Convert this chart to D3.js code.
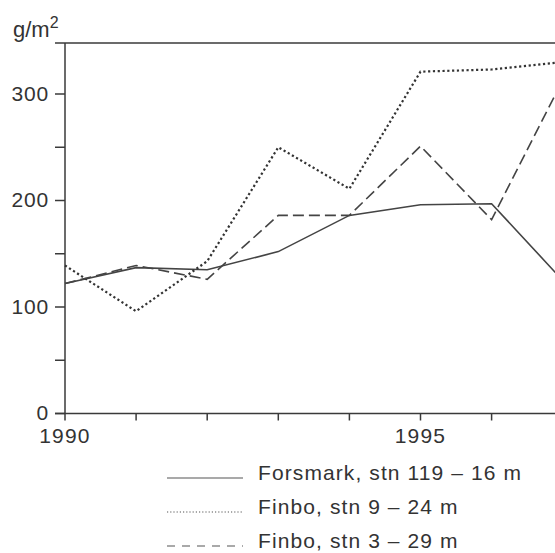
<!DOCTYPE html>
<html><head><meta charset="utf-8">
<script src="https://cdn.jsdelivr.net/npm/d3@7"></script>
<style>
html,body{margin:0;padding:0;background:#fff;}
svg{display:block;}
text{font-family:"Liberation Sans",Arial,Helvetica,sans-serif;fill:#333;}
</style></head>
<body>
<script>
const years = [1990, 1991, 1992, 1993, 1994, 1995, 1996, 1997];
const forsmark119 = [122, 137, 135, 152, 186, 196, 197, 125];
const finbo9 = [139, 96, 143, 250, 211, 321, 323, 330];
const finbo3 = [122, 139, 126, 186, 186, 251, 182, 313];
const seriesNames = ["Forsmark, stn 119 – 16 m", "Finbo, stn 9 – 24 m", "Finbo, stn 3 – 29 m"];
const yMajorTicks = [0, 100, 200, 300];
const yMinorTicks = [50, 150, 250];
const xLabelTicks = [1990, 1995];
const yUnit = "g/m";

const W = 555, H = 553;
const svg = d3.select("body").append("svg").attr("width", W).attr("height", H);

const x = d3.scaleLinear().domain([1990, 1995]).range([65, 420.5]);
const y = d3.scaleLinear().domain([0, 300]).range([413.5, 94]);
const yTop = 348;
const ink = "#3a3a3a";

// y axis line
svg.append("line").attr("x1", x(1990)).attr("x2", x(1990))
  .attr("y1", y(yTop)).attr("y2", y(0) + 7)
  .attr("stroke", ink).attr("stroke-width", 1.5);
// top line
svg.append("line").attr("x1", x(1990) - 10).attr("x2", W)
  .attr("y1", y(yTop)).attr("y2", y(yTop))
  .attr("stroke", ink).attr("stroke-width", 1.5);
// x axis line
svg.append("line").attr("x1", x(1990) - 10).attr("x2", W)
  .attr("y1", y(0)).attr("y2", y(0))
  .attr("stroke", ink).attr("stroke-width", 1.5);

// y ticks
const yAll = yMajorTicks.concat(yMinorTicks);
svg.selectAll(".ytick").data(yAll).enter().append("line")
  .attr("x1", x(1990) - 10).attr("x2", x(1990))
  .attr("y1", d => y(d)).attr("y2", d => y(d))
  .attr("stroke", ink).attr("stroke-width", 1.5);
svg.selectAll(".ylab").data(yMajorTicks).enter().append("text")
  .attr("x", x(1990) - 16).attr("y", d => y(d) + 6.5)
  .attr("text-anchor", "end")
  .style("font-size", "21px").style("letter-spacing", "0.8px").text(d => d);

// x ticks
svg.selectAll(".xtick").data(years.filter(d => d > 1990)).enter().append("line")
  .attr("x1", d => x(d)).attr("x2", d => x(d))
  .attr("y1", y(0)).attr("y2", y(0) + 7)
  .attr("stroke", ink).attr("stroke-width", 1.5);
svg.selectAll(".xlab").data(xLabelTicks).enter().append("text")
  .attr("x", d => x(d)).attr("y", y(0) + 29.5)
  .attr("text-anchor", "middle")
  .style("font-size", "21px").style("letter-spacing", "1.2px").text(d => d);

// unit label
const ul = svg.append("text").attr("x", 13).attr("y", 36.5).style("font-size", "22px");
ul.append("tspan").text(yUnit);
ul.append("tspan").attr("dy", -9).style("font-size", "16px").text("2");

// lines
const styles = [
  {dash: null, width: 1.6, color: "#444"},
  {dash: "2.2,2.6", width: 2.2, color: "#333"},
  {dash: "11,5", width: 1.6, color: "#444"}
];
const allSeries = [forsmark119, finbo9, finbo3];
const lineGen = d3.line().x((d, i) => x(years[i])).y(d => y(d));
allSeries.forEach((s, k) => {
  const p = svg.append("path").datum(s).attr("d", lineGen)
    .attr("fill", "none").attr("stroke", styles[k].color)
    .attr("stroke-width", styles[k].width)
    .attr("stroke-linejoin", "miter");
  if (styles[k].dash) p.attr("stroke-dasharray", styles[k].dash);
});

// legend
const legY = [480, 514, 548];
seriesNames.forEach((name, k) => {
  const g = svg.append("g");
  g.append("line").attr("x1", 167).attr("x2", 243)
    .attr("y1", legY[k] - 2).attr("y2", legY[k] - 2)
    .attr("stroke", "#555").attr("stroke-width", 1.2)
    .attr("stroke-dasharray", k === 1 ? "1.2,2" : (k === 2 ? "8,7" : null));
  g.append("text").attr("x", 258).attr("y", legY[k])
    .style("font-size", "21px").style("letter-spacing", "1.1px").text(name);
});
</script>
</body></html>
